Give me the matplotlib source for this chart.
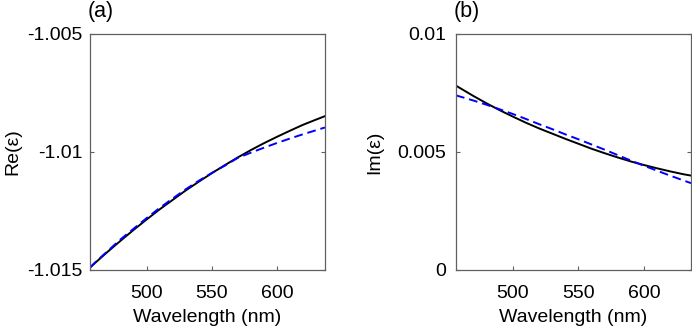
import matplotlib
matplotlib.use("Agg")
import matplotlib.pyplot as plt

plt.rcParams['font.family'] = ['Liberation Sans', 'DejaVu Sans']

# wavelength grid (nm)
wl = [456.5, 460, 470, 480, 490, 500, 510, 520, 530, 540, 550, 560, 570, 580, 590, 600, 610, 620, 630, 637]

# Re(eps): black solid and blue dashed
re_black = [-1.0149, -1.01472, -1.01423, -1.01376, -1.0133, -1.01286, -1.01243, -1.01203, -1.01163, -1.01126,
            -1.0109, -1.01056, -1.01023, -1.00992, -1.00963, -1.00936, -1.0091, -1.00885, -1.00863, -1.00848]
re_blue = [-1.0149, -1.0147, -1.0142, -1.0137, -1.01325, -1.0128, -1.01237, -1.01197, -1.01158, -1.01122,
           -1.01089, -1.01058, -1.01025, -1.01003, -1.00982, -1.00962, -1.00943, -1.00925, -1.00908, -1.00896]

# Im(eps): black solid and blue dashed
wl_im = [456.6, 470, 480, 490, 500, 510, 520, 530, 540, 550, 560, 570, 580, 590, 600, 610, 620, 630, 636]
im_black = [0.00781, 0.00737, 0.00706, 0.00677, 0.00650, 0.00624, 0.00600, 0.00578, 0.00556, 0.00535,
            0.00514, 0.00495, 0.00477, 0.00460, 0.00445, 0.00431, 0.00418, 0.00406, 0.00400]
im_blue = [0.00740, 0.00718, 0.00700, 0.00681, 0.00661, 0.00640, 0.00618, 0.00597, 0.00575, 0.00554,
           0.00532, 0.00510, 0.00487, 0.00464, 0.00442, 0.00421, 0.00400, 0.00380, 0.00368]

x_ticks = [500, 550, 600]
x_ticklabels = ['500', '550', '600']
re_ticks = [-1.015, -1.01, -1.005]
re_ticklabels = ['-1.015', '-1.01', '-1.005']
im_ticks = [0, 0.005, 0.01]
im_ticklabels = ['0', '0.005', '0.01']

fig = plt.figure(figsize=(6.92, 3.30), dpi=100)
W, H = 692, 330
axA = fig.add_axes([90 / W, (H - 270) / H, 235 / W, 236 / H])
axB = fig.add_axes([456 / W, (H - 270) / H, 235 / W, 236 / H])

spine_col = '#606060'
fs = 14

def style(ax):
    for s in ax.spines.values():
        s.set_color(spine_col)
        s.set_linewidth(0.9)
    ax.tick_params(axis='both', direction='in', length=3, width=0.8, color=spine_col,
                   labelsize=fs, labelcolor='black')
    ax.tick_params(axis='x', pad=10.5, top=False, bottom=True)
    ax.tick_params(axis='y', left=True, right=True)
    ax.set_xticks(x_ticks)
    ax.set_xticklabels(x_ticklabels)
    ax.set_xlabel('Wavelength (nm)', fontsize=fs, labelpad=5)

axA.plot(wl, re_black, color='black', lw=1.4)
axA.plot(wl, re_blue, color='#0000ff', lw=1.4, dashes=(4.5, 2.5))
axA.set_xlim(456.5, 637)
axA.set_ylim(-1.015, -1.005)
style(axA)
axA.set_yticks(re_ticks)
axA.set_yticklabels(re_ticklabels)
axA.tick_params(axis='y', pad=5.5)
axA.set_ylabel('Re(ε)', fontsize=fs, labelpad=4)
axA.text(88 / W, (H - 17) / H, '(a)', transform=fig.transFigure, fontsize=15.5,
         ha='left', va='baseline')

axB.plot(wl_im, im_black, color='black', lw=1.4)
axB.plot(wl_im, im_blue, color='#0000ff', lw=1.4, dashes=(4.5, 2.5))
axB.set_xlim(456.6, 636)
axB.set_ylim(0, 0.01)
style(axB)
axB.set_yticks(im_ticks)
axB.set_yticklabels(im_ticklabels)
axB.tick_params(axis='y', pad=7)
axB.set_ylabel('Im(ε)', fontsize=fs, labelpad=10)
axB.text(454 / W, (H - 17) / H, '(b)', transform=fig.transFigure, fontsize=15.5,
         ha='left', va='baseline')

fig.savefig('out.png', dpi=100)
